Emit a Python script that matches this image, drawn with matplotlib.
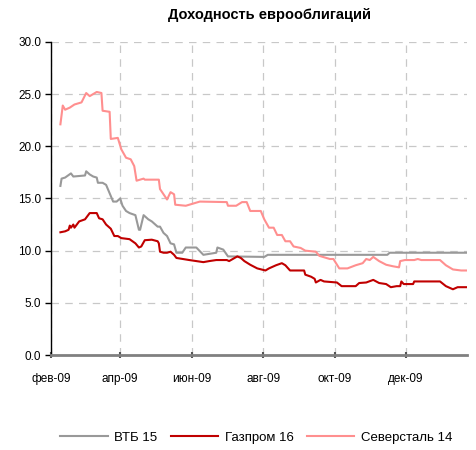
import matplotlib
matplotlib.use("Agg")
import matplotlib.pyplot as plt
import pandas as pd

plt.rcParams['font.family'] = ['Liberation Sans', 'DejaVu Sans']

# ВТБ 15
vtb_dates = ['2009-02-09', '2009-02-10', '2009-02-13', '2009-02-18', '2009-02-20', '2009-03-02',
             '2009-03-03', '2009-03-06', '2009-03-09', '2009-03-12', '2009-03-13', '2009-03-17',
             '2009-03-20', '2009-03-23', '2009-03-26', '2009-03-29', '2009-04-01', '2009-04-03',
             '2009-04-06', '2009-04-09', '2009-04-14', '2009-04-17', '2009-04-18', '2009-04-21',
             '2009-04-25', '2009-04-28', '2009-05-03', '2009-05-05', '2009-05-08', '2009-05-11',
             '2009-05-14', '2009-05-17', '2009-05-19', '2009-05-24', '2009-05-27', '2009-06-05',
             '2009-06-11', '2009-06-22', '2009-06-23', '2009-06-28', '2009-07-02', '2009-08-02',
             '2009-08-05', '2009-11-15', '2009-11-17', '2010-01-23']
vtb_vals = [16.2, 16.9, 17.0, 17.4, 17.1, 17.2,
            17.6, 17.3, 17.1, 17.0, 16.5, 16.5,
            16.3, 15.5, 14.7, 14.7, 15.0, 14.3,
            13.8, 13.6, 13.4, 12.0, 12.0, 13.4,
            13.0, 12.8, 12.3, 12.3, 11.7, 11.4,
            10.7, 10.6, 9.8, 9.8, 10.3, 10.3,
            9.6, 9.8, 10.3, 10.1, 9.45, 9.4,
            9.6, 9.6, 9.8, 9.8]

# Газпром 16
gaz_dates = ['2009-02-09', '2009-02-13', '2009-02-16', '2009-02-17', '2009-02-18', '2009-02-20',
             '2009-02-21', '2009-02-25', '2009-03-02', '2009-03-06', '2009-03-12', '2009-03-14',
             '2009-03-17', '2009-03-20', '2009-03-24', '2009-03-27', '2009-03-30', '2009-04-02',
             '2009-04-09', '2009-04-14', '2009-04-17', '2009-04-19', '2009-04-22', '2009-04-28',
             '2009-05-03', '2009-05-04', '2009-05-05', '2009-05-08', '2009-05-11', '2009-05-14',
             '2009-05-17', '2009-05-19', '2009-05-30', '2009-06-05', '2009-06-11', '2009-06-16',
             '2009-06-22', '2009-07-01', '2009-07-03', '2009-07-10', '2009-07-13', '2009-07-16',
             '2009-07-21', '2009-07-27', '2009-08-03', '2009-08-06', '2009-08-12', '2009-08-17',
             '2009-08-20', '2009-08-24', '2009-09-05', '2009-09-06', '2009-09-11', '2009-09-14',
             '2009-09-15', '2009-09-19', '2009-09-22', '2009-10-03', '2009-10-07', '2009-10-19',
             '2009-10-22', '2009-10-28', '2009-11-03', '2009-11-08', '2009-11-14', '2009-11-18',
             '2009-11-23', '2009-11-26', '2009-11-27', '2009-11-29', '2009-12-07', '2009-12-08',
             '2009-12-30', '2010-01-04', '2010-01-10', '2010-01-14', '2010-01-23']
gaz_vals = [11.76, 11.85, 12.0, 12.4, 12.2, 12.5,
            12.2, 12.8, 13.0, 13.6, 13.6, 13.1,
            13.0, 12.5, 12.1, 11.4, 11.4, 11.2,
            11.1, 10.7, 10.3, 10.4, 11.0, 11.05,
            10.9, 10.7, 9.9, 9.8, 9.8, 9.9,
            9.6, 9.3, 9.1, 9.0, 8.9, 9.0,
            9.1, 9.1, 9.0, 9.45, 9.3, 9.0,
            8.65, 8.3, 8.1, 8.3, 8.6, 8.8,
            8.6, 8.1, 8.1, 7.7, 7.5, 7.3,
            6.95, 7.2, 7.05, 6.95, 6.6, 6.6,
            6.9, 6.95, 7.2, 6.9, 6.8, 6.5,
            6.6, 6.6, 7.05, 6.8, 6.8, 7.05,
            7.05, 6.6, 6.3, 6.5, 6.5]

# Северсталь 14
sev_dates = ['2009-02-09', '2009-02-11', '2009-02-13', '2009-02-17', '2009-02-21', '2009-02-27',
             '2009-03-03', '2009-03-06', '2009-03-12', '2009-03-16', '2009-03-17', '2009-03-23',
             '2009-03-24', '2009-03-30', '2009-04-02', '2009-04-06', '2009-04-10', '2009-04-13',
             '2009-04-15', '2009-04-21', '2009-04-22', '2009-05-04', '2009-05-05', '2009-05-11',
             '2009-05-14', '2009-05-17', '2009-05-18', '2009-05-27', '2009-06-08', '2009-07-01',
             '2009-07-02', '2009-07-09', '2009-07-14', '2009-07-18', '2009-07-21', '2009-07-30',
             '2009-08-02', '2009-08-06', '2009-08-10', '2009-08-13', '2009-08-17', '2009-08-20',
             '2009-08-24', '2009-08-27', '2009-09-02', '2009-09-06', '2009-09-15', '2009-09-18',
             '2009-09-27', '2009-09-30', '2009-10-05', '2009-10-12', '2009-10-19', '2009-10-25',
             '2009-10-28', '2009-10-31', '2009-11-03', '2009-11-08', '2009-11-14', '2009-11-20',
             '2009-11-25', '2009-11-26', '2009-11-30', '2009-12-08', '2009-12-11', '2009-12-14',
             '2009-12-30', '2010-01-04', '2010-01-10', '2010-01-17', '2010-01-23']
sev_vals = [22.1, 23.9, 23.5, 23.7, 24.0, 24.2,
            25.1, 24.8, 25.2, 25.1, 23.4, 23.3,
            20.7, 20.8, 19.7, 18.9, 18.75, 18.1,
            16.7, 16.9, 16.8, 16.8, 15.9, 14.9,
            15.6, 15.4, 14.4, 14.3, 14.7, 14.65,
            14.3, 14.3, 14.65, 14.65, 13.8, 13.8,
            13.0, 12.2, 12.2, 11.5, 11.5, 10.9,
            10.9, 10.4, 10.26, 10.0, 9.9, 9.5,
            9.2, 9.2, 8.3, 8.3, 8.6, 8.8,
            9.2, 9.1, 9.4, 9.0, 8.65, 8.5,
            8.4, 9.0, 9.1, 9.1, 9.2, 9.1,
            9.1, 8.6, 8.2, 8.1, 8.1]

tick_dates = ['2009-02-01', '2009-04-01', '2009-06-01', '2009-08-01', '2009-10-01', '2009-12-01']
tick_labels = ['фев-09', 'апр-09', 'июн-09', 'авг-09', 'окт-09', 'дек-09']
y_ticks = [0, 5, 10, 15, 20, 25, 30]

fig = plt.figure(figsize=(4.77, 4.5), dpi=100)
ax = fig.add_axes([0.107, 0.211, 0.872, 0.696])

ax.plot(pd.to_datetime(vtb_dates), vtb_vals, color='#999999', lw=1.5, label='ВТБ 15')
ax.plot(pd.to_datetime(gaz_dates), gaz_vals, color='#C00000', lw=1.5, label='Газпром 16')
ax.plot(pd.to_datetime(sev_dates), sev_vals, color='#FF8F8F', lw=1.5, label='Северсталь 14')

ax.set_ylim(0, 30)
ax.set_yticks(y_ticks)
ax.set_yticklabels(['%.1f' % v for v in y_ticks])
ax.set_xlim(pd.Timestamp('2009-02-01'), pd.Timestamp('2010-01-22'))
ax.set_xticks(pd.to_datetime(tick_dates))
ax.set_xticklabels(tick_labels)

ax.grid(True, color='#c8c8c8', linestyle=(0, (6, 5)), lw=0.9)
ax.set_axisbelow(True)
for s in ['top', 'right']:
    ax.spines[s].set_visible(False)
ax.spines['left'].set_color('black')
ax.spines['left'].set_linewidth(1.0)
ax.spines['bottom'].set_color('#808080')
ax.spines['bottom'].set_linewidth(2.0)
ax.tick_params(axis='y', length=4, width=1, labelsize=8.5, pad=3)
ax.tick_params(axis='x', length=4, width=1.5, direction='inout', color='#555555',
               labelsize=8.5, pad=11)

fig.text(0.564, 0.966, 'Доходность еврооблигаций', ha='center', va='center',
         fontsize=10.5, fontweight='bold')

fig.legend(loc='center', bbox_to_anchor=(0.537, 0.027), ncol=3, frameon=False,
           fontsize=9.5, handlelength=3.6, handletextpad=0.5, columnspacing=1.0)

fig.savefig('out.png', dpi=100)
